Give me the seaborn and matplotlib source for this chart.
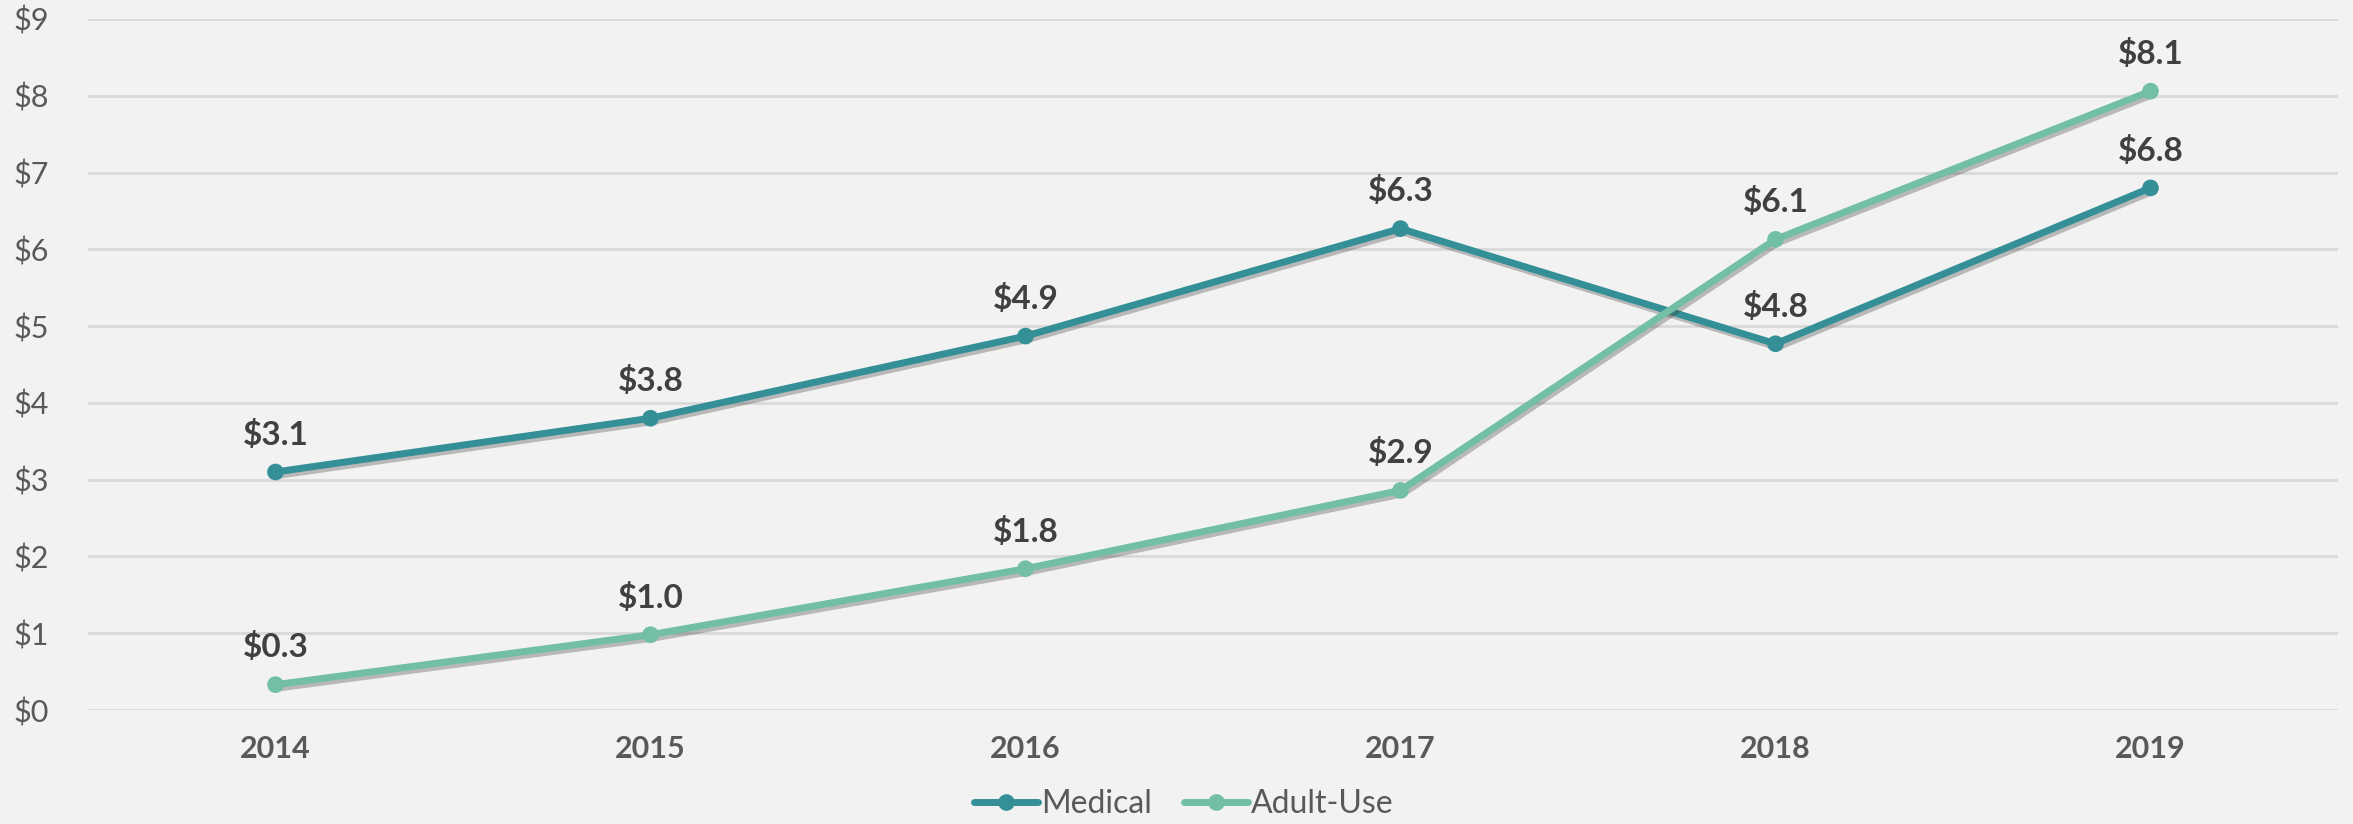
import matplotlib
matplotlib.use("Agg")
import matplotlib.pyplot as plt
import matplotlib.patheffects as pe
from matplotlib.lines import Line2D
import pandas as pd
import seaborn as sns

years = ["2014", "2015", "2016", "2017", "2018", "2019"]
medical = [3.10, 3.80, 4.87, 6.27, 4.77, 6.80]
adult_use = [0.33, 0.98, 1.84, 2.86, 6.13, 8.06]
series_names = ["Medical", "Adult-Use"]
colors = ["#358f97", "#72bfa5"]
yticks = list(range(0, 10))

df = pd.concat(
    [
        pd.DataFrame({"year": years, "value": medical, "series": "Medical"}),
        pd.DataFrame({"year": years, "value": adult_use, "series": "Adult-Use"}),
    ],
    ignore_index=True,
)

sns.set_theme(style="white")
plt.rcParams["font.family"] = ["Lato", "DejaVu Sans"]

bg = "#f2f2f2"
fig = plt.figure(figsize=(23.53, 8.24), dpi=100, facecolor=bg)
ax = fig.add_axes([88 / 2353, 1 - 710 / 824, (2338 - 88) / 2353, (710 - 19) / 824])
ax.set_facecolor(bg)

shadow = [pe.SimpleLineShadow(offset=(1.5, -2.5), alpha=0.3, shadow_color="#333333"), pe.Normal()]
sns.lineplot(
    data=df,
    x="year",
    y="value",
    hue="series",
    hue_order=series_names,
    palette=colors,
    marker="o",
    markersize=12,
    markeredgewidth=0,
    linewidth=5,
    sort=False,
    ax=ax,
    path_effects=shadow,
    legend=False,
)

# data labels
for vals in (medical, adult_use):
    for i, v in enumerate(vals):
        ax.annotate(
            f"${v:.1f}",
            (i, v),
            xytext=(0, 16),
            textcoords="offset points",
            ha="center",
            va="bottom",
            fontsize=24,
            fontweight="bold",
            color="#404040",
        )

ax.set_xlim(-0.5, len(years) - 0.5)
ax.set_ylim(0, 9)
ax.set_yticks(yticks)
ax.set_yticklabels([f"${t}" for t in yticks], fontsize=22, color="#595959")
ax.set_xticks(range(len(years)))
ax.set_xticklabels(years, fontsize=22, fontweight="bold", color="#595959")
ax.tick_params(axis="y", length=0, pad=28)
ax.tick_params(axis="x", length=0, pad=18)
ax.yaxis.grid(True, color="#d9d9d9", linewidth=2)
ax.set_axisbelow(True)
for s in ax.spines.values():
    s.set_visible(False)
ax.set_xlabel("")
ax.set_ylabel("")

# plain legend handles, no shadow
handles = [
    Line2D([], [], color=c, linewidth=5, marker="o", markersize=12, markeredgewidth=0,
           solid_capstyle="round")
    for c in colors
]
fig.legend(
    handles,
    series_names,
    loc="lower center",
    bbox_to_anchor=(0.503, 0.0),
    ncol=2,
    frameon=False,
    fontsize=23,
    labelcolor="#595959",
    handlelength=2.0,
    handletextpad=0.1,
    columnspacing=1.0,
    borderpad=0.05,
    borderaxespad=0.1,
)

fig.savefig("out.png", dpi=100, facecolor=bg)
